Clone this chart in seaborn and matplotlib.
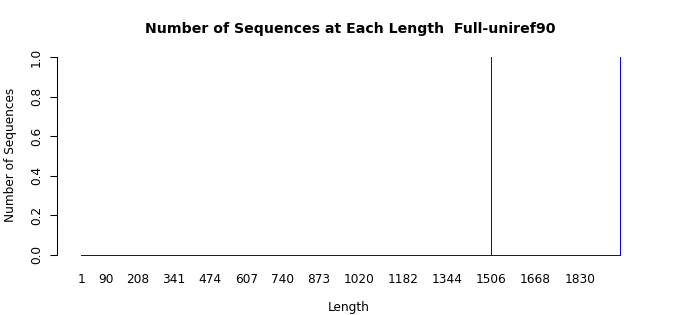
import numpy as np
import pandas as pd
import matplotlib
matplotlib.use("Agg")
import matplotlib.pyplot as plt
import seaborn as sns

# ---- data ----
min_length = 1
max_length = 1977
observed_lengths = [1506, 1977]
observed_counts = [1, 1]
xtick_labels = [1, 90, 208, 341, 474, 607, 740, 873, 1020, 1182, 1344, 1506, 1668, 1830]
ytick_values = [0.0, 0.2, 0.4, 0.6, 0.8, 1.0]
title = "Number of Sequences at Each Length  Full-uniref90"

# full length table (zero for unobserved lengths)
lengths = np.arange(min_length, max_length + 1)
counts = pd.Series(0, index=lengths)
counts.loc[observed_lengths] = observed_counts
df = pd.DataFrame({"Length": lengths, "Count": counts.values})

sns.set_style("white")
plt.rcParams["font.family"] = ["DejaVu Sans"]
plt.rcParams["text.color"] = "black"
plt.rcParams["axes.labelcolor"] = "black"
plt.rcParams["xtick.color"] = "black"
plt.rcParams["ytick.color"] = "black"

LW = 0.65

fig = plt.figure(figsize=(7, 3.15), dpi=100)
ax = fig.add_axes([57 / 700, 45 / 315, 583 / 700, 230 / 315])

sns.barplot(data=df, x="Length", y="Count", native_scale=True, fill=False,
            color="blue", linewidth=LW, width=0.05, ax=ax, errorbar=None)
patches = list(ax.patches)
for p in patches:
    p.set_edgecolor("blue")
    p.set_linewidth(LW)
    p.set_clip_on(False)
    p.set_antialiased(False)
    if p.get_height() == 0:
        p.set_visible(False)

# zero-height bar borders merge into one baseline line, as in the reference
left_edge = min(p.get_x() for p in patches) - 0.4
right_edge = max(p.get_x() + p.get_width() for p in patches) + 0.4
ax.hlines(0, left_edge, right_edge, color="blue", linewidth=LW,
          clip_on=False, antialiased=False)

ax.set_xlim(-89.0, 2051.3)
ax.set_ylim(-15 / 198, 1 + 17 / 198)

for s in ["top", "right", "bottom"]:
    ax.spines[s].set_visible(False)
ax.spines["left"].set_bounds(0, 1)
ax.spines["left"].set_color("black")
ax.spines["left"].set_linewidth(0.75)

ax.set_yticks(ytick_values)
ax.set_yticklabels([f"{v:.1f}" for v in ytick_values], rotation=90, va="center", fontsize=8.7)
ax.tick_params(axis="y", length=5, width=0.75, color="black", pad=5, left=True)
ax.set_xticks(xtick_labels)
ax.set_xticklabels([str(v) for v in xtick_labels], fontsize=8.7)
ax.tick_params(axis="x", length=0, pad=2)

ax.set_xlabel("Length", fontsize=8.7, labelpad=11)
ax.set_ylabel("Number of Sequences", fontsize=8.7, labelpad=9.5)
fig.text(350 / 700, 1 - 29 / 315, title, ha="center", va="center",
         fontsize=10.2, fontweight="bold")

fig.savefig("out.png", dpi=100)
